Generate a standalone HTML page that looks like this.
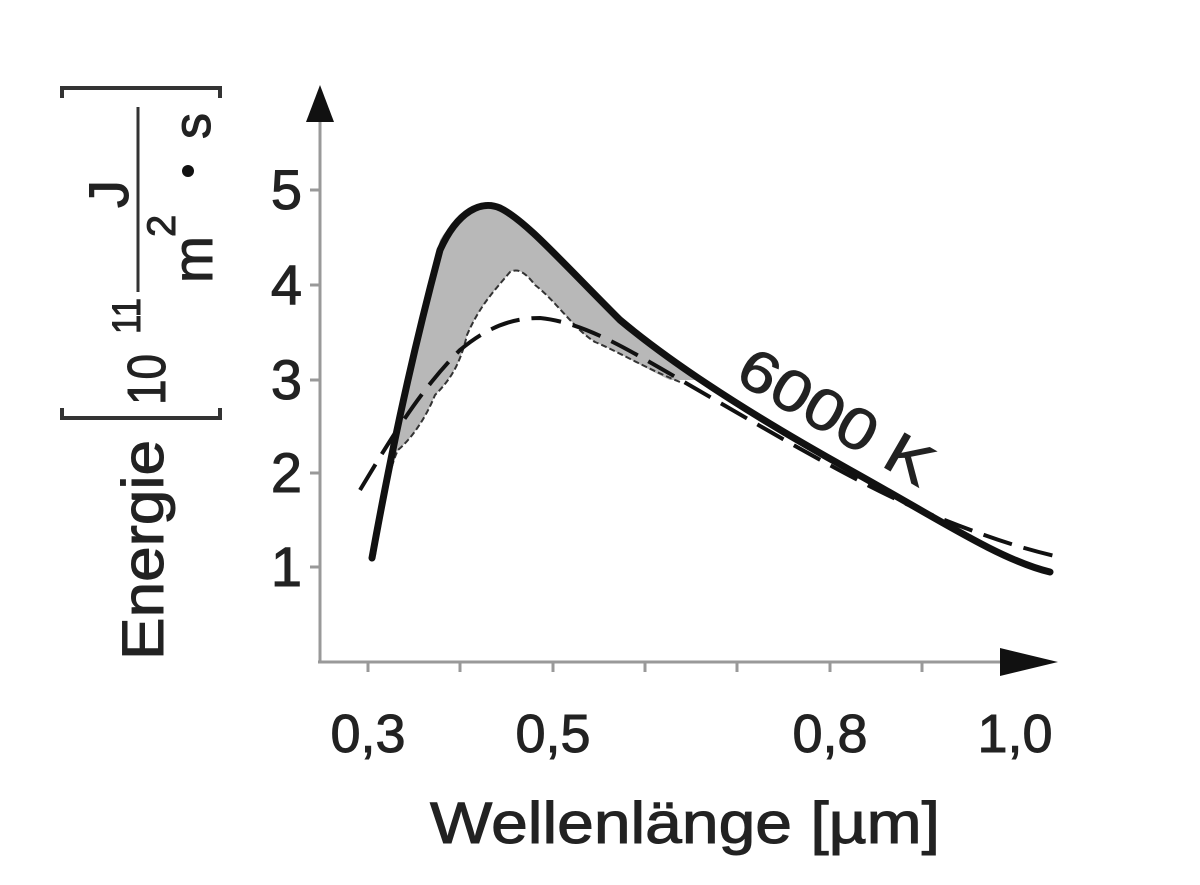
<!DOCTYPE html>
<html><head><style>
body{margin:0;background:#fff;}
text{font-family:"Liberation Sans",sans-serif;fill:#222;}
</style></head><body>
<svg width="1200" height="880" viewBox="0 0 1200 880" xmlns="http://www.w3.org/2000/svg">
<g stroke="#999" stroke-width="3" fill="none">
<line x1="320" y1="120" x2="320" y2="662"/>
<line x1="318" y1="662" x2="1010" y2="662"/>
<line x1="368" y1="662" x2="368" y2="672"/><line x1="460" y1="662" x2="460" y2="672"/>
<line x1="553" y1="662" x2="553" y2="672"/><line x1="645" y1="662" x2="645" y2="672"/>
<line x1="737" y1="662" x2="737" y2="672"/><line x1="830" y1="662" x2="830" y2="672"/>
<line x1="922" y1="662" x2="922" y2="672"/><line x1="1015" y1="662" x2="1015" y2="672"/>
<line x1="310" y1="190" x2="320" y2="190"/><line x1="310" y1="285" x2="320" y2="285"/>
<line x1="310" y1="380" x2="320" y2="380"/><line x1="310" y1="473" x2="320" y2="473"/>
<line x1="310" y1="567" x2="320" y2="567"/>
</g>
<polygon points="320,85 306,122 334,122" fill="#111"/>
<polygon points="1058,662 1000,648 1000,676" fill="#111"/>
<g font-size="56" text-anchor="end" stroke="#222" stroke-width="1">
<text x="302" y="209">5</text>
<text x="302" y="304">4</text>
<text x="302" y="399">3</text>
<text x="302" y="492">2</text>
<text x="302" y="586">1</text>
</g>
<g font-size="54" text-anchor="middle" stroke="#222" stroke-width="1">
<text x="368" y="752">0,3</text>
<text x="553" y="752">0,5</text>
<text x="830" y="752">0,8</text>
<text x="1015" y="752">1,0</text>
<text x="430" y="843" font-size="58" text-anchor="start" textLength="510" lengthAdjust="spacingAndGlyphs">Wellenlänge [µm]</text>
</g>
<g stroke="#333" stroke-width="4" fill="none">
<path d="M70 418 L62 418 L62 408 M62 418 L220 418 L220 408"/>
<path d="M70 88 L62 88 L62 98 M62 88 L220 88 L220 98"/>
<line x1="138" y1="292" x2="138" y2="107" stroke-width="3"/>
</g>
<g transform="rotate(-90)" stroke="#222" stroke-width="1">
<text x="-660" y="163" font-size="58" textLength="220" lengthAdjust="spacingAndGlyphs">Energie</text>
<text x="-405" y="165" font-size="54" textLength="51" lengthAdjust="spacingAndGlyphs">10</text>
<text x="-334" y="140" font-size="40" textLength="36" lengthAdjust="spacingAndGlyphs">11</text>
<text x="-208" y="128" font-size="56">J</text>
<text x="-283" y="212" font-size="56" textLength="47" lengthAdjust="spacingAndGlyphs">m</text>
<text x="-237" y="175" font-size="40">2</text>
<text x="-139" y="210" font-size="52">s</text>
</g>
<circle cx="188" cy="171" r="6" fill="#111"/>
<path d="M372,558 C385,480 405,380 440,240 C455,215 480,203 495,207 C520,215 560,260 620,320 C640,340 670,360 700,380 L670,380 C645,368 615,350 595,342 C575,330 555,300 535,285 C525,272 518,268 510,272 C495,290 480,305 467,335 C460,365 450,380 435,395 C425,420 410,440 398,450 C385,470 380,520 372,558 Z" fill="#b8b8b8"/>
<path d="M375,555 C380,520 388,470 398,450 C410,440 425,420 435,395 C450,380 460,365 467,335 C480,305 495,290 510,272 C518,268 525,272 535,285 C555,300 575,330 595,342 C615,350 645,368 680,382" fill="none" stroke="#333" stroke-width="2" stroke-dasharray="6 3"/>
<path d="M360,490 C390,440 420,390 460,350 C490,325 515,318 540,318 C580,322 620,345 660,368 C750,420 850,480 920,510 C980,535 1020,548 1055,556" fill="none" stroke="#111" stroke-width="4" stroke-dasharray="30 12"/>
<path d="M372,558 C388,470 408,370 440,250 C458,210 482,200 500,208 C525,220 560,260 620,320 C680,370 760,420 850,470 C940,520 1000,560 1050,572" fill="none" stroke="#111" stroke-width="7" stroke-linecap="round"/>
<text x="0" y="0" font-size="58" stroke="#222" stroke-width="1" transform="translate(733 380) rotate(30)" textLength="215" lengthAdjust="spacingAndGlyphs">6000 K</text>
</svg>
</body></html>
